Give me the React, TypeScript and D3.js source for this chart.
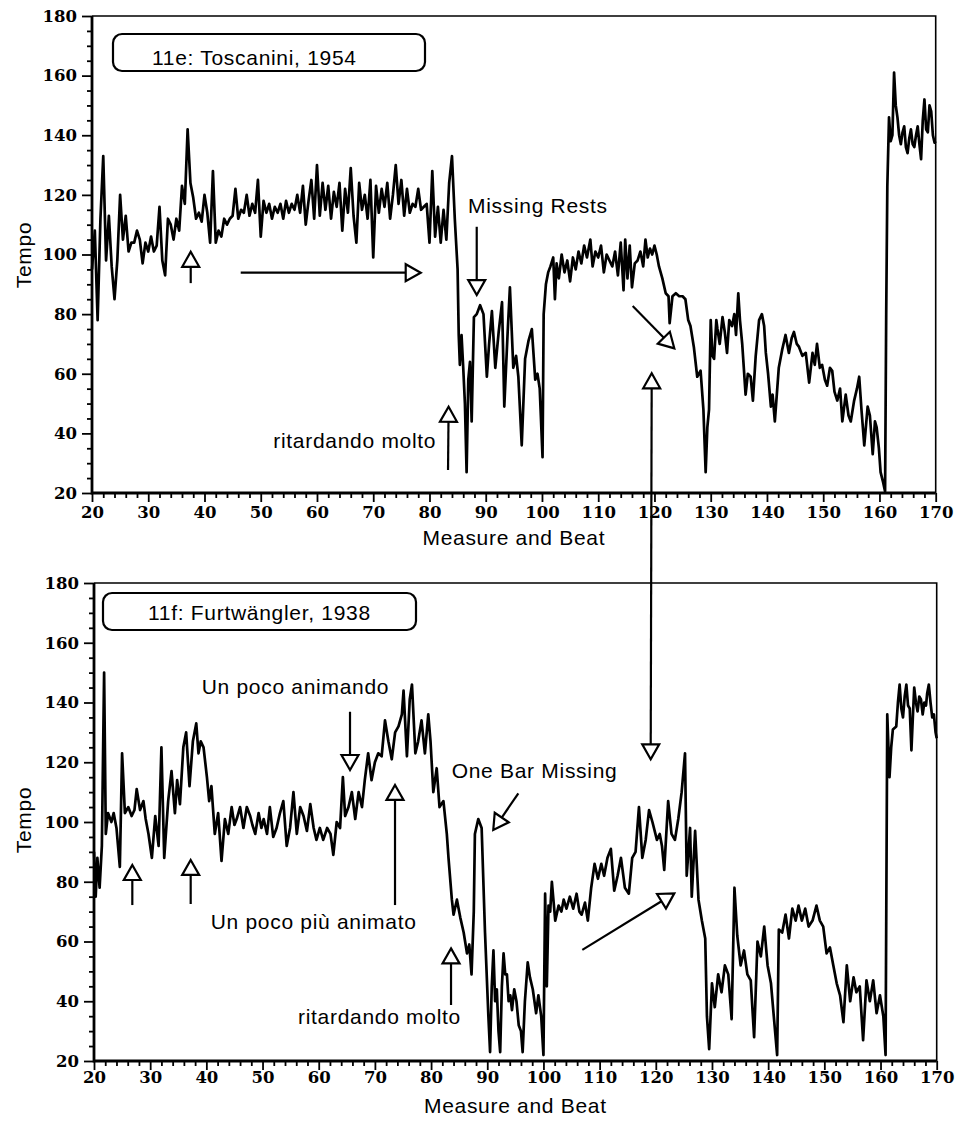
import { useEffect, useRef } from "react";
import * as d3 from "d3";

const WIDTH = 970;
const HEIGHT = 1126;

const xTicks = [20, 30, 40, 50, 60, 70, 80, 90, 100, 110, 120, 130, 140, 150, 160, 170];
const yTicks = [20, 40, 60, 80, 100, 120, 140, 160, 180];

// [measure, tempo]
const toscanini: [number, number][] = [
  [20, 95], [20.5, 108], [21, 78], [21.5, 112], [22, 133], [22.5, 98], [23, 113], [23.5, 96], [24, 85], [24.5, 98],
  [25, 120], [25.5, 105], [26, 113], [26.5, 101], [27, 104], [27.5, 104], [28, 108], [28.5, 105], [29, 97], [29.5, 104],
  [30, 101], [30.5, 106], [31, 101], [31.5, 103], [32, 116], [32.5, 98], [33, 93], [33.5, 112], [34, 110], [34.5, 105],
  [35, 112], [35.5, 108], [36, 123], [36.5, 117], [37, 142], [37.5, 124], [38, 119], [38.5, 112], [39, 114], [39.5, 111],
  [40, 120], [40.5, 114], [41, 104], [41.5, 128], [42, 104], [42.5, 108], [43, 106], [43.5, 112], [44, 110], [44.5, 112],
  [45, 113], [45.5, 122], [46, 112], [46.5, 115], [47, 114], [47.5, 120], [48, 113], [48.5, 117], [49, 114], [49.5, 125],
  [50, 106], [50.5, 118], [51, 114], [51.5, 117], [52, 112], [52.5, 116], [53, 114], [53.5, 117], [54, 112], [54.5, 118],
  [55, 114], [55.5, 117], [56, 115], [56.5, 120], [57, 114], [57.5, 123], [58, 110], [58.5, 118], [59, 125], [59.5, 112],
  [60, 130], [60.5, 113], [61, 124], [61.5, 115], [62, 123], [62.5, 112], [63, 121], [63.5, 116], [64, 124], [64.5, 108],
  [65, 122], [65.5, 114], [66, 129], [66.5, 113], [67, 104], [67.5, 124], [68, 115], [68.5, 120], [69, 112], [69.5, 125],
  [70, 99], [70.5, 123], [71, 114], [71.5, 122], [72, 116], [72.5, 124], [73, 112], [73.5, 120], [74, 130], [74.5, 117],
  [75, 125], [75.5, 113], [76, 122], [76.5, 114], [77, 117], [77.5, 116], [78, 122], [78.5, 115], [79, 116], [79.5, 117],
  [80, 104], [80.5, 128], [81, 106], [81.5, 116], [82, 104], [82.5, 115], [83, 105], [83.5, 124], [84, 133], [84.5, 112],
  [85, 95], [85.2, 73], [85.4, 63], [85.7, 73], [86, 62], [86.3, 50], [86.6, 27], [86.9, 58], [87.2, 64], [87.5, 44],
  [87.9, 79], [88.4, 80], [89, 83], [89.6, 80], [90.2, 59], [90.6, 70], [91.1, 81], [91.7, 62], [92.3, 74], [92.9, 84],
  [93.3, 49], [93.9, 74], [94.3, 89], [94.9, 62], [95.4, 66], [95.8, 59], [96.4, 36], [97, 65], [97.6, 71], [98.2, 75],
  [98.8, 58], [99.2, 60], [99.6, 55], [100.1, 32], [100.3, 80], [100.7, 90], [101.1, 94], [101.5, 96], [102, 99], [102.3, 85],
  [102.6, 97], [103, 92], [103.5, 100], [104, 94], [104.5, 98], [105, 91], [105.5, 99], [106, 95], [106.5, 101], [107, 97],
  [107.5, 103], [108, 99], [108.6, 105], [109, 96], [109.5, 101], [110, 99], [110.5, 103], [111, 94], [111.5, 100], [112, 98],
  [112.5, 96], [113, 101], [113.5, 93], [114, 104], [114.5, 88], [114.8, 105], [115.2, 92], [115.6, 103], [116, 89], [116.5, 97],
  [117, 98], [117.5, 101], [118, 96], [118.4, 105], [118.8, 99], [119.2, 102], [119.6, 100], [120, 103], [120.4, 100], [120.8, 96],
  [121.4, 92], [122, 87], [122.5, 86], [122.7, 77], [123.2, 86], [123.8, 87], [124.4, 86], [125, 86], [125.5, 85], [126, 78],
  [126.4, 76], [127, 69], [127.6, 59], [128.2, 61], [128.7, 48], [129.1, 27], [129.4, 42], [129.7, 48], [130, 78], [130.3, 66],
  [130.6, 65], [131, 78], [131.2, 75], [131.6, 70], [132.1, 79], [132.5, 74], [132.9, 67], [133.3, 78], [133.8, 76], [134.2, 80],
  [134.5, 73], [134.9, 87], [135.2, 78], [135.6, 70], [136.2, 53], [136.6, 60], [137.1, 59], [137.5, 51], [138, 66], [138.6, 78],
  [139.1, 80], [139.5, 76], [139.8, 67], [140.2, 60], [140.7, 49], [141, 53], [141.4, 44], [142.1, 62], [142.7, 68], [143.3, 73],
  [143.9, 67], [144.4, 72], [144.8, 74], [145.3, 70], [145.7, 69], [146.3, 66], [146.9, 67], [147.5, 57], [148.1, 67], [148.5, 63],
  [148.9, 70], [149.4, 62], [149.8, 63], [150.3, 58], [150.7, 56], [151.2, 62], [151.6, 61], [152, 54], [152.5, 51], [153, 55],
  [153.4, 44], [154, 53], [154.5, 46], [154.9, 44], [155.5, 51], [156, 55], [156.4, 59], [156.8, 48], [157.3, 36], [157.9, 49],
  [158.3, 46], [158.8, 33], [159.2, 44], [159.5, 42], [159.9, 35], [160.2, 27], [160.6, 24], [161, 20.5], [161.2, 80], [161.4, 123],
  [161.7, 146], [162, 138], [162.3, 140], [162.6, 161], [162.9, 150], [163.2, 146], [163.5, 140], [163.8, 137], [164.1, 141], [164.4, 143],
  [164.7, 136], [165, 134], [165.3, 139], [165.6, 142], [165.9, 137], [166.2, 136], [166.5, 140], [166.8, 143], [167.1, 137], [167.4, 132],
  [167.7, 145], [168, 152], [168.3, 142], [168.6, 141], [168.9, 150], [169.2, 148], [169.5, 140], [169.8, 137.5], [170, 138],
];

// [measure, tempo]
const furtwangler: [number, number][] = [
  [20, 90], [20.3, 75], [20.6, 88], [21, 78], [21.4, 92], [21.8, 150], [22.1, 96], [22.5, 103], [23.1, 100], [23.5, 103],
  [24, 98], [24.6, 85], [25, 123], [25.5, 103], [26.1, 105], [26.7, 102], [27.2, 104], [27.6, 111], [28.2, 104], [28.8, 107],
  [29.2, 101], [29.7, 96], [30.3, 88], [30.9, 102], [31.5, 92], [32, 125], [32.5, 88], [33.2, 107], [33.8, 117], [34.4, 103],
  [34.8, 114], [35.3, 106], [35.9, 125], [36.4, 130], [37, 112], [37.6, 127], [38.2, 133], [38.6, 123], [39, 127], [39.5, 125],
  [40.1, 115], [40.5, 107], [40.9, 112], [41.5, 96], [42.1, 103], [42.7, 87], [43.3, 101], [43.9, 96], [44.5, 105], [45, 99],
  [45.4, 101], [46, 105], [46.6, 98], [47.2, 105], [47.8, 102], [48.2, 99], [48.7, 96], [49.3, 103], [49.8, 98], [50.2, 101],
  [50.8, 96], [51.3, 105], [51.9, 95], [52.5, 98], [53.1, 103], [53.7, 107], [54.3, 92], [54.9, 98], [55.5, 110], [56.1, 96],
  [56.7, 105], [57.3, 102], [57.9, 97], [58.5, 106], [59.1, 98], [59.6, 94], [60.2, 98], [60.8, 94], [61.5, 98], [62.1, 96],
  [62.6, 89], [63.2, 100], [63.8, 98], [64.3, 115], [64.7, 102], [65.3, 105], [65.9, 110], [66.5, 101], [67.1, 110], [67.7, 105],
  [68.2, 114], [68.8, 123], [69.4, 114], [70, 120], [70.6, 123], [71.2, 122], [71.8, 134], [72.4, 127], [73, 121], [73.6, 130],
  [74.2, 132], [74.8, 136], [75.1, 144], [75.7, 122], [76.2, 141], [76.6, 146], [77.2, 123], [77.7, 127], [78.3, 134], [78.9, 123],
  [79.5, 136], [79.9, 127], [80.4, 110], [81, 118], [81.5, 105], [82.2, 107], [82.8, 96], [83.1, 88], [83.7, 74], [84, 69],
  [84.6, 74], [85.2, 68], [85.8, 63], [86.4, 56], [86.8, 59], [87.2, 49], [87.6, 70], [87.8, 96], [88.4, 101], [89, 98],
  [89.6, 63], [90.2, 35], [90.5, 23], [90.8, 45], [91.1, 57], [91.4, 40], [91.7, 44], [92, 30], [92.3, 23], [92.6, 45],
  [92.9, 56], [93.2, 49], [93.5, 49], [93.8, 40], [94.1, 42], [94.4, 37], [94.8, 44], [95.2, 40], [95.6, 32], [96, 30],
  [96.3, 23], [96.7, 40], [97.2, 53], [97.6, 48], [98.1, 44], [98.4, 40], [98.7, 36], [99.1, 42], [99.6, 35], [100, 22],
  [100.3, 76], [100.6, 45], [100.9, 72], [101.2, 70], [101.5, 80], [102.1, 67], [102.7, 72], [103.2, 70], [103.6, 74], [104.1, 71],
  [104.7, 75], [105.3, 71], [105.9, 76], [106.4, 70], [106.8, 69], [107.4, 73], [107.9, 67], [108.5, 78], [109.1, 86], [109.7, 81],
  [110.3, 86], [110.8, 82], [111.4, 88], [112, 91], [112.6, 77], [113.2, 82], [113.8, 88], [114.5, 78], [115.2, 76], [115.8, 88],
  [116.4, 90], [117, 105], [117.6, 88], [118.2, 94], [118.8, 104], [119.4, 100], [120.2, 94], [120.7, 96], [121.1, 92], [121.5, 84],
  [122.2, 107], [122.8, 96], [123.4, 94], [124, 101], [124.6, 110], [125.2, 123], [125.5, 82], [126.1, 98], [126.4, 75], [127, 97],
  [127.6, 74], [128.2, 67], [128.8, 61], [129.1, 35], [129.5, 24], [130, 46], [130.5, 38], [131.1, 49], [131.7, 43], [132.3, 52],
  [132.9, 49], [133.5, 34], [134, 78], [134.5, 62], [135.1, 52], [135.7, 57], [136.3, 49], [136.9, 47], [137.5, 28], [138.1, 60],
  [138.7, 55], [139.3, 65], [139.9, 52], [140.5, 46], [141, 35], [141.6, 22], [141.9, 64], [142.5, 63], [143.1, 69], [143.7, 61],
  [144.3, 71], [144.9, 67], [145.4, 72], [146, 67], [146.6, 71], [147.2, 65], [147.9, 67], [148.6, 72], [149.2, 67], [149.8, 65],
  [150.4, 56], [151, 58], [151.6, 52], [152.2, 46], [152.8, 42], [153.4, 33], [154, 52], [154.6, 40], [155.2, 48], [155.7, 43],
  [156.3, 45], [156.9, 27], [157.5, 47], [158.1, 40], [158.7, 47], [159.3, 36], [159.9, 42], [160.5, 35], [160.9, 22], [161.2, 136],
  [161.6, 115], [161.9, 125], [162.2, 131], [162.8, 132], [163.1, 140], [163.4, 146], [163.7, 138], [164, 135], [164.3, 142], [164.6, 146],
  [164.9, 139], [165.2, 138], [165.5, 124], [165.8, 137], [166, 145], [166.3, 140], [166.6, 137], [166.9, 142], [167.2, 141], [167.5, 136],
  [167.8, 140], [168.1, 139], [168.3, 143], [168.6, 146], [168.9, 140], [169.2, 135], [169.5, 136], [169.8, 130], [170, 128],
];

// annotations, in measure / tempo units of their own panel
const toscaniniNotes = [
  { text: "Missing Rests", m: 86.85, t: 113.9 },
  { text: "ritardando molto", m: 52.23, t: 35.1 },
];
const toscaniniArrows = [
  { from: [37.55, 90.4], to: [37.55, 100.9] },
  { from: [46.44, 93.9], to: [78.44, 93.9] },
  { from: [88.4, 109.3], to: [88.4, 86.4] },
  { from: [83.3, 27.7], to: [83.4, 48.95] },
  { from: [116.13, 82.7], to: [123.53, 68.5] },
];
const furtwanglerNotes = [
  { text: "Un poco animando", m: 39.17, t: 142.8 },
  { text: "Un poco più animato", m: 40.77, t: 64.2 },
  { text: "ritardando molto", m: 56.31, t: 32.4 },
  { text: "One Bar Missing", m: 83.67, t: 114.7 },
];
const furtwanglerArrows = [
  { from: [26.82, 72.2], to: [26.82, 85.6] },
  { from: [37.21, 72.55], to: [37.21, 87.3] },
  { from: [65.57, 136.9], to: [65.57, 117.4] },
  { from: [73.58, 72.2], to: [73.58, 112.4] },
  { from: [83.55, 38.75], to: [83.55, 57.7] },
  { from: [95.53, 109.6], to: [91.07, 97.35] },
  { from: [106.92, 57.2], to: [123.29, 76.1] },
];
// double arrow linking the two panels: top-panel point, bottom-panel point
const linkTop = [119.51, 60.15];
const linkBottom = [119.09, 121.0];

const panels = [
  {
    title: "11e: Toscanini, 1954",
    series: toscanini,
    notes: toscaniniNotes,
    arrows: toscaniniArrows,
    left: 92, right: 935.7, top: 16, bottom: 493,
    labelPad: 4, axisTitleY: 545, tempoY: 255,
    box: { x: 113, y: 34, w: 312, h: 37 }, boxTextX: 152, boxTextY: 65,
  },
  {
    title: "11f: Furtwängler, 1938",
    series: furtwangler,
    notes: furtwanglerNotes,
    arrows: furtwanglerArrows,
    left: 94, right: 936.7, top: 583, bottom: 1061,
    labelPad: 1, axisTitleY: 1113, tempoY: 820,
    box: { x: 103, y: 593, w: 313, h: 37 }, boxTextX: 148, boxTextY: 620,
  },
];

const SANS = "'Liberation Sans', Arial, Helvetica, sans-serif";
const SERIF = "'DejaVu Serif', serif";

function drawArrow(g: any, x1: number, y1: number, x2: number, y2: number, headAtStart = false) {
  const L = 15;
  const W = 8.5;
  const head = (tx: number, ty: number, ux: number, uy: number) => {
    const bx = tx - ux * L;
    const by = ty - uy * L;
    const nx = -uy;
    const ny = ux;
    g.append("path")
      .attr("d", `M${tx},${ty}L${bx + nx * W},${by + ny * W}L${bx - nx * W},${by - ny * W}Z`)
      .attr("fill", "#fff")
      .attr("stroke", "#000")
      .attr("stroke-width", 2.2)
      .attr("stroke-linejoin", "miter");
  };
  const len = Math.hypot(x2 - x1, y2 - y1);
  const ux = (x2 - x1) / len;
  const uy = (y2 - y1) / len;
  const sx = headAtStart ? x1 + ux * L : x1;
  const sy = headAtStart ? y1 + uy * L : y1;
  g.append("line")
    .attr("x1", sx).attr("y1", sy)
    .attr("x2", x2 - ux * L).attr("y2", y2 - uy * L)
    .attr("stroke", "#000")
    .attr("stroke-width", 2.2);
  head(x2, y2, ux, uy);
  if (headAtStart) head(x1, y1, -ux, -uy);
}

export default function App() {
  const svgRef = useRef<SVGSVGElement>(null);

  useEffect(() => {
    if (!svgRef.current) return;
    const svg = d3.select(svgRef.current);
    svg.selectAll("*").remove();

    svg.append("rect").attr("width", WIDTH).attr("height", HEIGHT).attr("fill", "#fff");

    const scales: any[] = [];

    panels.forEach((p) => {
      const x = d3.scaleLinear().domain([20, 170]).range([p.left, p.right]);
      const y = d3.scaleLinear().domain([20, 180]).range([p.bottom, p.top]);
      scales.push({ x, y });
      const g = svg.append("g");

      // thin frame on top and right
      g.append("path")
        .attr("d", `M${p.left},${p.top}H${p.right}V${p.bottom}`)
        .attr("fill", "none")
        .attr("stroke", "#000")
        .attr("stroke-width", 1.6);

      // minor ticks
      g.append("g")
        .attr("transform", `translate(${p.left},0)`)
        .call(d3.axisLeft(y).tickValues(d3.range(25, 180, 5).filter((v) => v % 20 !== 0)).tickSize(5).tickFormat(() => ""))
        .call((a: any) => a.select(".domain").remove());
      g.append("g")
        .attr("transform", `translate(0,${p.bottom})`)
        .call(d3.axisBottom(x).tickValues(d3.range(22, 170, 2).filter((v) => v % 10 !== 0)).tickSize(5).tickFormat(() => ""))
        .call((a: any) => a.select(".domain").remove());

      // major ticks + labels
      const yAxis = g.append("g")
        .attr("transform", `translate(${p.left},0)`)
        .call(d3.axisLeft(y).tickValues(yTicks).tickSize(10).tickPadding(5).tickFormat(d3.format("d")));
      const xAxis = g.append("g")
        .attr("transform", `translate(0,${p.bottom})`)
        .call(d3.axisBottom(x).tickValues(xTicks).tickSize(9).tickPadding(p.labelPad).tickFormat(d3.format("d")));
      [yAxis, xAxis].forEach((a) => {
        a.select(".domain").remove();
        a.selectAll("text")
          .attr("font-family", SERIF)
          .attr("font-size", 16.5)
          .attr("font-weight", "bold")
          .attr("fill", "#000");
      });
      g.selectAll(".tick line").attr("stroke", "#000").attr("stroke-width", 1.8);

      // heavy left and bottom axis lines
      g.append("path")
        .attr("d", `M${p.left},${p.top}V${p.bottom}H${p.right}`)
        .attr("fill", "none")
        .attr("stroke", "#000")
        .attr("stroke-width", 2.8);

      // tempo curve
      const line = d3.line<[number, number]>()
        .x((d) => x(d[0]))
        .y((d) => y(d[1]));
      g.append("path")
        .datum(p.series)
        .attr("d", line)
        .attr("fill", "none")
        .attr("stroke", "#000")
        .attr("stroke-width", 2.7)
        .attr("stroke-linejoin", "round");

      // title box
      g.append("rect")
        .attr("x", p.box.x).attr("y", p.box.y)
        .attr("width", p.box.w).attr("height", p.box.h)
        .attr("rx", 9)
        .attr("fill", "#fff")
        .attr("stroke", "#000")
        .attr("stroke-width", 2.2);
      g.append("text")
        .attr("x", p.boxTextX).attr("y", p.boxTextY)
        .attr("font-family", SANS).attr("font-size", 21).attr("letter-spacing", 0.7)
        .text(p.title);

      // notes and arrows
      p.notes.forEach((n) => {
        g.append("text")
          .attr("x", x(n.m)).attr("y", y(n.t))
          .attr("font-family", SANS).attr("font-size", 21).attr("letter-spacing", 0.7)
          .text(n.text);
      });
      p.arrows.forEach((a) => {
        drawArrow(g, x(a.from[0]), y(a.from[1]), x(a.to[0]), y(a.to[1]));
      });

      // axis titles
      g.append("text")
        .attr("x", (p.left + p.right) / 2).attr("y", p.axisTitleY)
        .attr("text-anchor", "middle")
        .attr("font-family", SANS).attr("font-size", 21).attr("letter-spacing", 0.7)
        .text("Measure and Beat");
      g.append("text")
        .attr("transform", `translate(31,${p.tempoY}) rotate(-90)`)
        .attr("text-anchor", "middle")
        .attr("font-family", SANS).attr("font-size", 21).attr("letter-spacing", 0.7)
        .text("Tempo");
    });

    // double arrow across both panels
    const [top, bot] = scales;
    drawArrow(svg, top.x(linkTop[0]), top.y(linkTop[1]), bot.x(linkBottom[0]), bot.y(linkBottom[1]), true);
  }, []);

  return (
    <svg
      ref={svgRef}
      width={WIDTH}
      height={HEIGHT}
      style={{ position: "absolute", left: 0, top: 0, display: "block" }}
    />
  );
}
